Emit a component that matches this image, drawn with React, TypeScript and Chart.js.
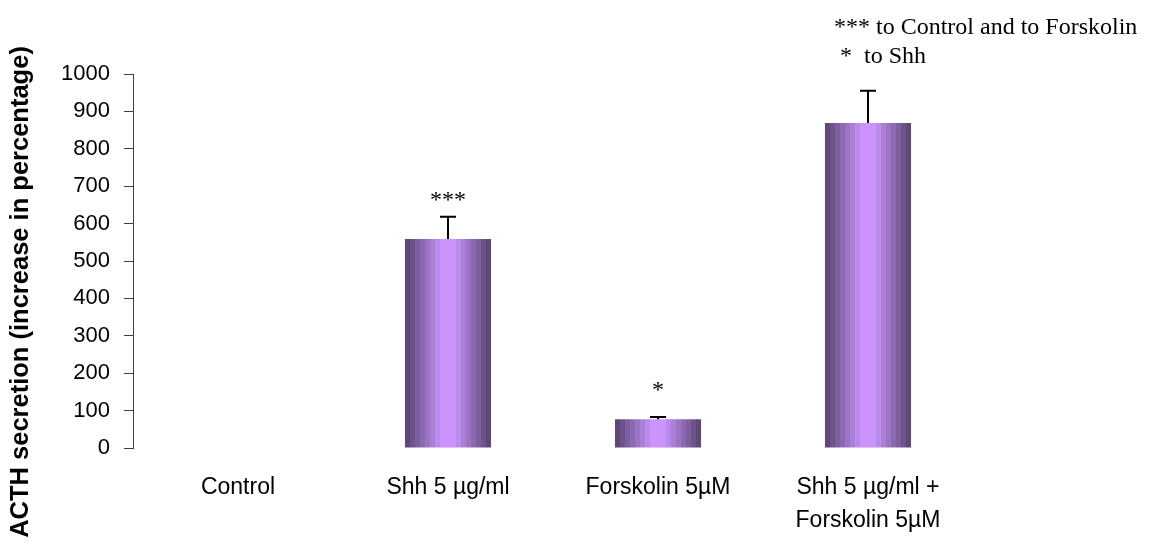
import React, { useEffect, useRef } from "react";
import { Chart, registerables } from "chart.js";

Chart.register(...registerables);

const categories: (string | string[])[] = [
  "Control",
  "Shh 5 µg/ml",
  "Forskolin 5µM",
  ["Shh 5 µg/ml +", "Forskolin 5µM"],
];
const acthValues = [0, 559, 77, 869];
const acthErrors = [0, 59, 6, 86];
const significance = ["", "***", "*", ""];
const yTicks = [0, 100, 200, 300, 400, 500, 600, 700, 800, 900, 1000];
const yTitle = "ACTH secretion (increase in percentage)";
const noteLines = ["*** to Control and to Forskolin", " *  to Shh"];

const BAR_PCT = 0.41;
const MARK_LIFT = [0, 10, 20, 0];
const DARK = [94, 72, 120];
const LIGHT = [202, 148, 252];

function bandColor(t: number) {
  const c = DARK.map((d, k) => Math.round(d + (LIGHT[k] - d) * t));
  return `rgb(${c[0]},${c[1]},${c[2]})`;
}

export default function App() {
  const ref = useRef<HTMLCanvasElement | null>(null);

  useEffect(() => {
    const canvas = ref.current;
    if (!canvas) return;

    const bgColor = (ctx: any) => {
      const chart = ctx.chart;
      const xs = chart.scales?.x;
      if (!chart.chartArea || !xs || ctx.dataIndex === undefined) return bandColor(0.5);
      const c = xs.getPixelForValue(ctx.dataIndex);
      const w = (xs.width / categories.length) * BAR_PCT;
      const g = chart.ctx.createLinearGradient(c - w / 2, 0, c + w / 2, 0);
      const N = 17;
      const mid = (N - 1) / 2;
      for (let j = 0; j < N; j++) {
        const t = 1 - Math.abs(j - mid) / mid;
        const col = bandColor(Math.min(1, t * 1.15));
        g.addColorStop(j / N, col);
        g.addColorStop((j + 1) / N - 0.0001, col);
      }
      return g;
    };

    const overlay = {
      id: "overlay",
      afterDatasetsDraw(chart: any) {
        const c = chart.ctx;
        const meta = chart.getDatasetMeta(0);
        const ys = chart.scales.y;
        c.save();
        c.strokeStyle = "#000";
        c.lineWidth = 2;
        meta.data.forEach((el: any, i: number) => {
          if (!acthErrors[i]) return;
          const top = ys.getPixelForValue(acthValues[i] + acthErrors[i]);
          const base = ys.getPixelForValue(acthValues[i]);
          c.beginPath();
          c.moveTo(el.x, base);
          c.lineTo(el.x, top);
          c.moveTo(el.x - 8, top);
          c.lineTo(el.x + 8, top);
          c.stroke();
        });
        c.fillStyle = "#000";
        c.font = '24px "Liberation Serif", "Times New Roman", serif';
        c.textAlign = "center";
        c.textBaseline = "alphabetic";
        meta.data.forEach((el: any, i: number) => {
          if (!significance[i]) return;
          const top = ys.getPixelForValue(acthValues[i] + acthErrors[i]);
          c.fillText(significance[i], el.x, top - MARK_LIFT[i]);
        });
        c.restore();
      },
      afterDraw(chart: any) {
        const c = chart.ctx;
        c.save();
        c.fillStyle = "#000";
        c.font = '24px "Liberation Serif", "Times New Roman", serif';
        c.textAlign = "left";
        c.textBaseline = "alphabetic";
        c.fillText(noteLines[0], 834, 34);
        c.fillText(noteLines[1], 834, 63);
        c.translate(21, 292);
        c.rotate(-Math.PI / 2);
        c.font = 'bold 25.5px "Liberation Sans", Arial, sans-serif';
        c.textAlign = "center";
        c.textBaseline = "middle";
        c.fillText(yTitle, 0, 0);
        c.restore();
      },
    };

    const chart = new Chart(canvas, {
      type: "bar",
      data: {
        labels: categories,
        datasets: [
          {
            data: acthValues,
            backgroundColor: bgColor,
            borderWidth: 0,
            barPercentage: BAR_PCT,
            categoryPercentage: 1,
          },
        ],
      },
      options: {
        animation: false,
        responsive: false,
        devicePixelRatio: 1,
        layout: { padding: { top: 74, right: 177, bottom: 0, left: 0 } },
        plugins: { legend: { display: false }, tooltip: { enabled: false } },
        scales: {
          x: {
            grid: { display: false },
            border: { display: false },
            ticks: {
              color: "#000",
              font: { family: '"Liberation Sans", Arial, sans-serif', size: 23, lineHeight: 1.45 },
              padding: 15,
              maxRotation: 0,
              autoSkip: false,
            },
            afterFit: (s: any) => {
              s.height = 99;
            },
          },
          y: {
            min: 0,
            max: 1000,
            afterBuildTicks: (s: any) => {
              s.ticks = yTicks.map((v) => ({ value: v }));
            },
            grid: {
              drawOnChartArea: false,
              drawTicks: true,
              tickLength: 9,
              color: "#404040",
              lineWidth: 1,
            },
            border: { display: true, color: "#404040", width: 1 },
            ticks: {
              color: "#000",
              font: { family: '"Liberation Sans", Arial, sans-serif', size: 22 },
              padding: 14,
              callback: (v: any) => String(v),
            },
            afterFit: (s: any) => {
              s.width = 133;
            },
          },
        },
      },
      plugins: [overlay],
    });

    return () => chart.destroy();
  }, []);

  return (
    <div style={{ position: "absolute", left: 0, top: 0, width: 1150, height: 547, background: "#fff" }}>
      <canvas ref={ref} width={1150} height={547} />
    </div>
  );
}
